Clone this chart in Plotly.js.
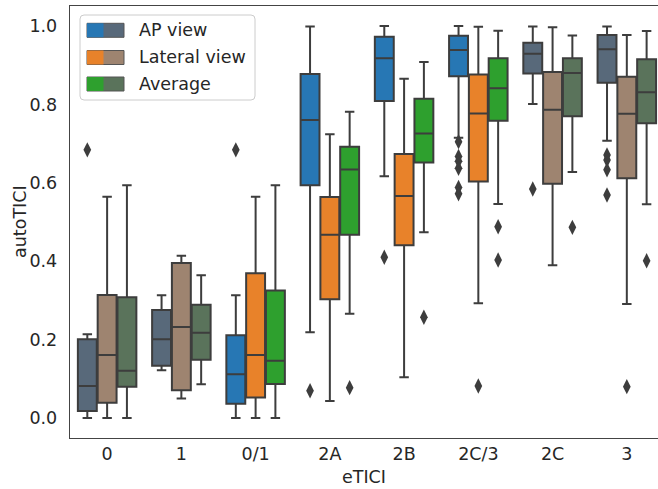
<!DOCTYPE html>
<html>
<head>
<meta charset="utf-8">
<script src="https://cdn.plot.ly/plotly-3.0.1.min.js"></script>
<style>html,body{margin:0;padding:0;background:#fff;}</style>
</head>
<body>
<div id="chart" style="width:658px;height:489px;"></div>
<script>
// ---- data ----
const categories = ['0', '1', '0/1', '2A', '2B', '2C/3', '2C', '3'];
const hueNames = ['AP view', 'Lateral view', 'Average'];
const vivid = [false, false, true, true, true, true, false, false];

const apLow  = [0.000, 0.122, 0.000, 0.2185, 0.617, 0.715, 0.801, 0.7075];
const apQ1   = [0.018, 0.1335, 0.0366, 0.594, 0.8087, 0.8716, 0.879, 0.8554];
const apMed  = [0.0816, 0.2007, 0.1114, 0.760, 0.918, 0.9388, 0.929, 0.9405];
const apQ3   = [0.2007, 0.2755, 0.211, 0.8776, 0.9728, 0.9753, 0.9575, 0.977];
const apHigh = [0.2135, 0.313, 0.313, 0.999, 1.000, 1.000, 0.999, 0.999];
const apOut  = [[0.684], [], [0.684], [0.0697], [0.41], [0.705, 0.667, 0.655, 0.637, 0.588, 0.572], [0.584], [0.671, 0.658, 0.633, 0.569]];

const latLow  = [0.000, 0.050, 0.000, 0.0434, 0.1037, 0.2925, 0.3895, 0.291];
const latQ1   = [0.039, 0.0706, 0.052, 0.3027, 0.4405, 0.603, 0.5977, 0.6114];
const latMed  = [0.1607, 0.232, 0.1607, 0.4677, 0.5663, 0.777, 0.7866, 0.776];
const latQ3   = [0.3138, 0.3954, 0.369, 0.5638, 0.6735, 0.876, 0.8827, 0.8708];
const latHigh = [0.5646, 0.414, 0.5646, 0.7236, 0.8656, 0.998, 0.9966, 0.977];
const latOut  = [[], [], [], [], [], [0.0816], [], [0.080]];

const avgLow  = [0.000, 0.086, 0.000, 0.266, 0.4737, 0.546, 0.6276, 0.545];
const avgQ1   = [0.080, 0.1488, 0.0867, 0.4677, 0.652, 0.7585, 0.770, 0.7517];
const avgMed  = [0.1207, 0.2177, 0.146, 0.634, 0.726, 0.841, 0.880, 0.831];
const avgQ3   = [0.3078, 0.289, 0.325, 0.692, 0.8146, 0.9175, 0.918, 0.915];
const avgHigh = [0.5935, 0.364, 0.5935, 0.7815, 0.908, 0.988, 0.976, 0.987];
const avgOut  = [[], [], [], [0.0774], [0.257], [0.488, 0.403], [0.4864], [0.401]];

// ---- styling ----
const vividColors = ['#2777b4', '#e8822a', '#2ea02e'];
const mutedColors = ['#58697a', '#9e8470', '#5a735b'];
const edge = '#3d3d3d';
const font = 'DejaVu Sans, sans-serif';
const textColor = '#262626';

const hues = [
  {low: apLow, q1: apQ1, med: apMed, q3: apQ3, high: apHigh, out: apOut},
  {low: latLow, q1: latQ1, med: latMed, q3: latQ3, high: latHigh, out: latOut},
  {low: avgLow, q1: avgQ1, med: avgMed, q3: avgQ3, high: avgHigh, out: avgOut}
];
const slot = 0.8 / 3;
const traces = [];
hues.forEach((h, hi) => {
  const off = (hi - 1) * slot;
  categories.forEach((c, ci) => {
    const pos = ci + off;
    traces.push({
      type: 'box', x: [pos],
      q1: [h.q1[ci]], median: [h.med[ci]], q3: [h.q3[ci]],
      lowerfence: [h.low[ci]], upperfence: [h.high[ci]],
      width: slot - 0.012,
      fillcolor: vivid[ci] ? vividColors[hi] : mutedColors[hi],
      line: {color: edge, width: 2},
      whiskerwidth: 0.5,
      boxpoints: false, showlegend: false, hoverinfo: 'skip'
    });
    if (h.out[ci].length) {
      traces.push({
        type: 'scatter', mode: 'markers',
        x: h.out[ci].map(() => pos), y: h.out[ci],
        marker: {symbol: 'diamond-tall', size: 11, color: edge},
        showlegend: false, hoverinfo: 'skip'
      });
    }
  });
});

// ---- custom two-tone legend (pixel -> paper helpers) ----
const L = 70, R = 658, T = 6, B = 438;
const px = v => (v - L) / (R - L);
const py = v => (B - v) / (B - T);
const shapes = [];
const annotations = [];
(function () {
  const x0 = 80, x1 = 255, y0 = 15, y1 = 100, r = 4;
  const p = (x, y) => px(x) + ',' + py(y);
  const path = 'M' + p(x0 + r, y0) + ' L' + p(x1 - r, y0) + ' Q' + p(x1, y0) + ' ' + p(x1, y0 + r) +
    ' L' + p(x1, y1 - r) + ' Q' + p(x1, y1) + ' ' + p(x1 - r, y1) +
    ' L' + p(x0 + r, y1) + ' Q' + p(x0, y1) + ' ' + p(x0, y1 - r) +
    ' L' + p(x0, y0 + r) + ' Q' + p(x0, y0) + ' ' + p(x0 + r, y0) + ' Z';
  shapes.push({type: 'path', xref: 'paper', yref: 'paper', path: path,
    fillcolor: 'rgba(255,255,255,0.85)', line: {color: '#cccccc', width: 1}, layer: 'above'});
})();
const rowCenters = [30.3, 57.5, 84];
hueNames.forEach((name, i) => {
  const yc = rowCenters[i];
  shapes.push({type: 'rect', xref: 'paper', yref: 'paper', layer: 'above',
    x0: px(87), x1: px(124), y0: py(yc + 7), y1: py(yc - 7),
    fillcolor: mutedColors[i], line: {color: '#555555', width: 1}});
  shapes.push({type: 'rect', xref: 'paper', yref: 'paper', layer: 'above',
    x0: px(87), x1: px(103.5), y0: py(yc + 7), y1: py(yc - 7),
    fillcolor: vividColors[i], line: {width: 0}});
  annotations.push({xref: 'paper', yref: 'paper', x: px(137), y: py(yc),
    xanchor: 'left', yanchor: 'middle', showarrow: false, text: name,
    font: {family: font, size: 17.5, color: textColor}});
});
// y-axis title placed at the reference position
annotations.push({xref: 'paper', yref: 'paper', x: px(20), y: 0.5, textangle: -90,
  xanchor: 'center', yanchor: 'middle', showarrow: false, text: 'autoTICI',
  font: {family: font, size: 17.5, color: textColor}});

const layout = {
  width: 658, height: 489,
  margin: {l: L, r: 0, t: T, b: 489 - B},
  paper_bgcolor: '#ffffff', plot_bgcolor: '#ffffff',
  font: {family: font, size: 17.5, color: textColor},
  showlegend: false,
  xaxis: {
    range: [-0.5, 7.42], tickvals: categories.map((c, i) => i), ticktext: categories,
    showgrid: false, zeroline: false, ticks: '', showline: true, mirror: true,
    linecolor: '#444444', linewidth: 1.25, ticklabelstandoff: 0,
    title: {text: 'eTICI', font: {family: font, size: 17.5, color: textColor}, standoff: 7},
    tickfont: {family: font, size: 17.5, color: textColor}
  },
  yaxis: {
    range: [-0.051, 1.051], tickvals: [0, 0.2, 0.4, 0.6, 0.8, 1.0],
    ticktext: ['0.0', '0.2', '0.4', '0.6', '0.8', '1.0'],
    showgrid: false, zeroline: false, ticks: '', showline: true,
    linecolor: '#444444', linewidth: 1.25, ticklabelstandoff: 8,
    tickfont: {family: font, size: 17.5, color: textColor}
  },
  shapes: shapes,
  annotations: annotations
};

Plotly.newPlot('chart', traces, layout, {displayModeBar: false, staticPlot: true});
</script>
</body>
</html>
